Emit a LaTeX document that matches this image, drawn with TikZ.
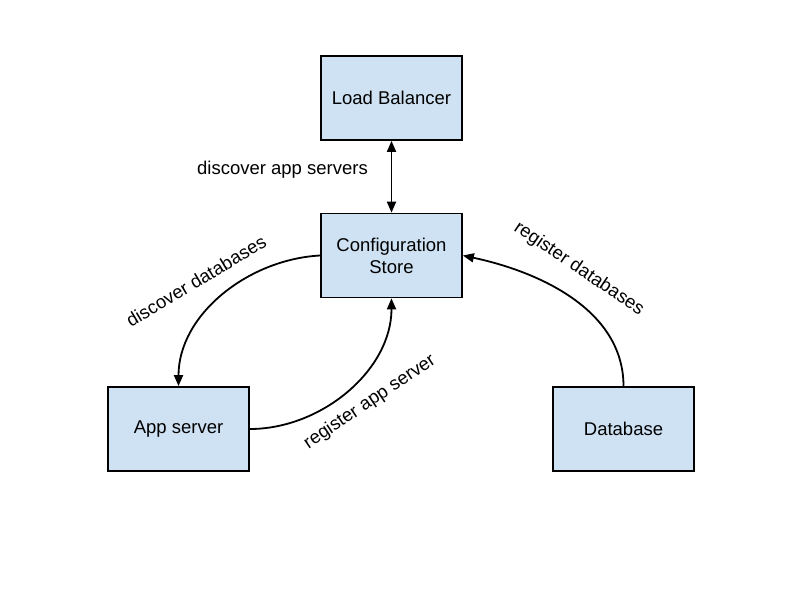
\documentclass[tikz,border=0pt]{standalone}
\usepackage{fontspec}
\setmainfont{Liberation Sans}
\usetikzlibrary{arrows.meta}
\definecolor{boxfill}{HTML}{CFE2F3}
\begin{document}
\begin{tikzpicture}[x=1pt,y=-1pt,
  tip/.tip={Triangle[length=11pt,width=9pt]},
  box/.style={draw=black, fill=boxfill, line width=1.7pt, minimum width=141pt, minimum height=84pt, inner sep=0pt, align=center, font=\fontsize{18.5}{22}\selectfont},
  lbl/.style={font=\fontsize{18.5}{22}\selectfont, inner sep=0pt},
  conn/.style={line width=1.8pt, -tip}
]
\path[use as bounding box, fill=white] (0,0) rectangle (800,600);
\node[box] (lb) at (391.5,98) {Load Balancer};
\node[box] (cs) at (391.5,255.5) {Configuration\\Store};
\node[box] (app) at (178.5,429) {App server};
\node[box] (db) at (623.5,429) {Database};

\draw[line width=1.8pt, tip-tip] (lb.south) -- (cs.north);
\draw[conn] (cs.west) to[out=183,in=90,looseness=0.95] (app.north);
\draw[conn] (app.east) to[out=0,in=-90,looseness=0.95] (cs.south);
\draw[conn] (db.north) to[out=90,in=-12,looseness=0.95] (cs.east);

\node[lbl] (t1) at (282.5,170) {discover app servers};
\node[lbl, rotate=31] (t2) at (196,281) {discover databases};
\node[lbl, rotate=34] (t3) at (370,402) {register app server};
\node[lbl, rotate=-34] (t4) at (579,269) {register databases};
\end{tikzpicture}
\end{document}
